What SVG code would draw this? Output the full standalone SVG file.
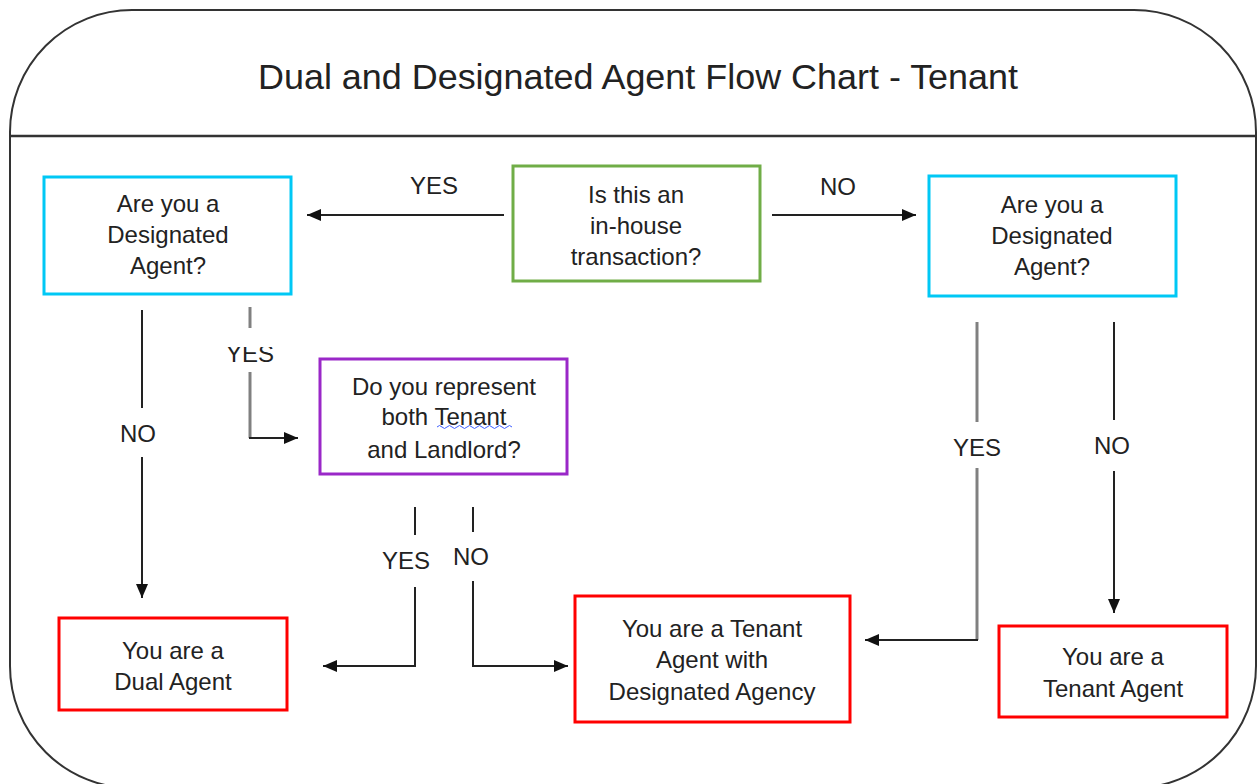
<svg xmlns="http://www.w3.org/2000/svg" width="1257" height="784" viewBox="0 0 1257 784">
<defs>
<style>
.t{font-family:"Liberation Sans",Arial,sans-serif;font-size:24px;fill:#222;text-anchor:middle}
.box{fill:#fff;stroke-width:3}
.cy{stroke:#00c8f5}
.gr{stroke:#70ad47}
.pu{stroke:#9a28c8}
.rd{stroke:#ff0000}
.ln{fill:none;stroke:#222;stroke-width:2}
.lg{fill:none;stroke:#808080;stroke-width:3}
.ar{fill:none;stroke:#222;stroke-width:2;marker-end:url(#ah)}
</style>
<marker id="ah" viewBox="0 0 14 12" refX="14" refY="6" markerWidth="14" markerHeight="12" markerUnits="userSpaceOnUse" orient="auto">
<path d="M0,0 L14,6 L0,12 Z" fill="#111"/>
</marker>
<clipPath id="yclip"><rect x="200" y="347" width="100" height="30"/></clipPath>
</defs>
<rect width="1257" height="784" fill="#fff"/>
<g id="frame">
<rect x="10" y="10" width="1246" height="778" rx="122" ry="122" fill="none" stroke="#333" stroke-width="2"/>
<line x1="10" y1="136" x2="1256" y2="136" stroke="#333" stroke-width="2.5"/>
<text x="638" y="89" font-family="'Liberation Sans',Arial,sans-serif" font-size="35" fill="#222" text-anchor="middle" textLength="760" lengthAdjust="spacingAndGlyphs">Dual and Designated Agent Flow Chart - Tenant</text>
</g>
<g id="connectors">
<line class="ar" x1="504" y1="215" x2="307" y2="215"/>
<text class="t" x="434" y="194">YES</text>
<line class="ar" x1="772" y1="215" x2="916" y2="215"/>
<text class="t" x="838" y="195">NO</text>
<line class="ln" x1="142" y1="310" x2="142" y2="408"/>
<text class="t" x="138" y="442">NO</text>
<line class="ar" x1="142" y1="457" x2="142" y2="598"/>
<line class="lg" x1="250" y1="307" x2="250" y2="328"/>
<text class="t" x="250" y="362" clip-path="url(#yclip)">YES</text>
<line class="lg" x1="250" y1="372" x2="250" y2="438"/>
<line class="ar" x1="249" y1="438" x2="298" y2="438"/>
<line class="ln" x1="415" y1="507" x2="415" y2="535"/>
<text class="t" x="406" y="569">YES</text>
<path class="ar" d="M415,587 V666 H323"/>
<line class="ln" x1="473" y1="507" x2="473" y2="532"/>
<text class="t" x="471" y="565">NO</text>
<path class="ar" d="M473,581 V666 H568"/>
<line class="lg" x1="977" y1="322" x2="977" y2="422"/>
<text class="t" x="977" y="456">YES</text>
<line class="lg" x1="977" y1="468" x2="977" y2="640"/>
<line class="ar" x1="978" y1="640" x2="865" y2="640"/>
<line class="ln" x1="1114" y1="322" x2="1114" y2="420"/>
<text class="t" x="1112" y="454">NO</text>
<line class="ar" x1="1114" y1="471" x2="1114" y2="613"/>
</g>
<g id="q1">
<rect class="box gr" x="513" y="166" width="247" height="115"/>
<text class="t" x="636" y="203">Is this an</text>
<text class="t" x="636" y="234">in-house</text>
<text class="t" x="636" y="265">transaction?</text>
</g>
<g id="q2left">
<rect class="box cy" x="44" y="177" width="247" height="117"/>
<text class="t" x="168" y="212">Are you a</text>
<text class="t" x="168" y="243">Designated</text>
<text class="t" x="168" y="274">Agent?</text>
</g>
<g id="q2right">
<rect class="box cy" x="929" y="176" width="247" height="120"/>
<text class="t" x="1052" y="213">Are you a</text>
<text class="t" x="1052" y="244">Designated</text>
<text class="t" x="1052" y="275">Agent?</text>
</g>
<g id="q3">
<rect class="box pu" x="320" y="359" width="247" height="115"/>
<text class="t" x="444" y="395">Do you represent</text>
<text class="t" x="444" y="425">both Tenant</text>
<text class="t" x="444" y="458">and Landlord?</text>
<path d="M437,427 q2.5,-3 5,0 t5,0 t5,0 t5,0 t5,0 t5,0 t5,0 t5,0 t5,0 t5,0 t5,0 t5,0 t5,0 t5,0 t5,0" fill="none" stroke="#4060ff" stroke-width="1"/>
</g>
<g id="dual">
<rect class="box rd" x="59" y="618" width="228" height="92"/>
<text class="t" x="173" y="659">You are a</text>
<text class="t" x="173" y="690">Dual Agent</text>
</g>
<g id="designated">
<rect class="box rd" x="575" y="596" width="275" height="126"/>
<text class="t" x="712" y="637">You are a Tenant</text>
<text class="t" x="712" y="668">Agent with</text>
<text class="t" x="712" y="700">Designated Agency</text>
</g>
<g id="tenant">
<rect class="box rd" x="999" y="626" width="228" height="91"/>
<text class="t" x="1113" y="665">You are a</text>
<text class="t" x="1113" y="697">Tenant Agent</text>
</g>
</svg>
